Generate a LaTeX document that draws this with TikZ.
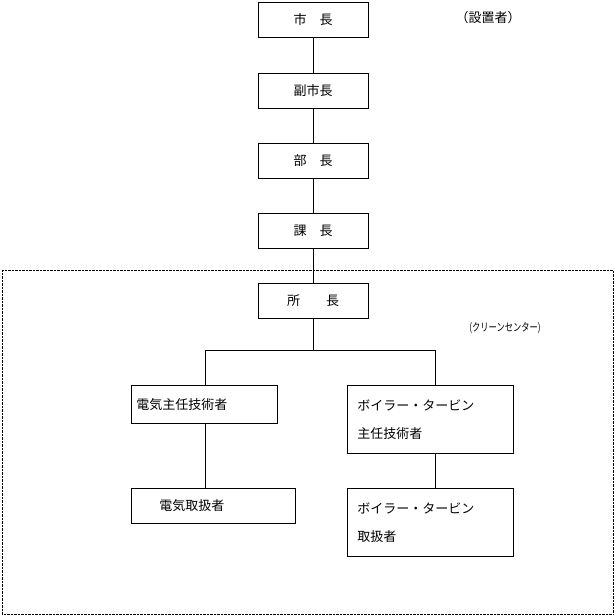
\documentclass[tikz,border=0pt]{standalone}
\usepackage{fontspec}
\setmainfont{Noto Sans CJK JP}
\usetikzlibrary{positioning}

\begin{document}
\begin{tikzpicture}[
    x=1pt, y=-1pt,
    post/.style={draw, thick, minimum width=110pt, minimum height=35pt, inner sep=0pt, font=\fontsize{13}{16}\selectfont},
    tech/.style={draw, thick, align=left, anchor=north west, inner sep=0pt, font=\fontsize{13}{30}\selectfont},
    link/.style={draw, thick}
]
\path[use as bounding box] (0,0) rectangle (615,616);

\node[post] (mayor) at (313,19.5) {市　長};
\node[post] (vice) at (313,90.5) {副市長};
\node[post] (dept) at (313,160.5) {部　長};
\node[post] (sect) at (313,230.5) {課　長};
\node[font=\fontsize{13}{16}\selectfont] (owner) at (488,18) {（設置者）};

\draw[densely dotted] (2,270) rectangle (613,614);
\node[post] (chief) at (313,300.5) {所　　長};
\node[font=\fontsize{11}{13}\selectfont, xscale=0.75] (center) at (505,328) {(クリーンセンター)};

\node[tech, minimum height=38pt, text width=146pt] (elecchief) at (131,385) {\hspace{5pt}電気主任技術者};
\node[tech, minimum height=68pt, text width=166pt] (boilchief) at (347,385) {\hspace{10pt}ボイラー・タービン\\[-2pt]\hspace{10pt}主任技術者};
\node[tech, minimum height=35pt, text width=164pt] (elec) at (131,488) {\hspace{28pt}電気取扱者};
\node[tech, minimum height=68pt, text width=166pt] (boil) at (347,488) {\hspace{10pt}ボイラー・タービン\\[-2pt]\hspace{10pt}取扱者};

% hierarchy
\draw[link] (mayor) -- (vice);
\draw[link] (vice) -- (dept);
\draw[link] (dept) -- (sect);
\draw[link] (sect) -- (chief);
\coordinate (lbranch) at (205,350);
\coordinate (rbranch) at (435,350);
\draw[link] (chief) -- (chief |- lbranch);
\draw[link] (lbranch) -- (rbranch);
\draw[link] (lbranch) -- (lbranch |- elecchief.north);
\draw[link] (rbranch) -- (rbranch |- boilchief.north);
\draw[link] (lbranch |- elecchief.south) -- (lbranch |- elec.north);
\draw[link] (rbranch |- boilchief.south) -- (rbranch |- boil.north);
\end{tikzpicture}
\end{document}
